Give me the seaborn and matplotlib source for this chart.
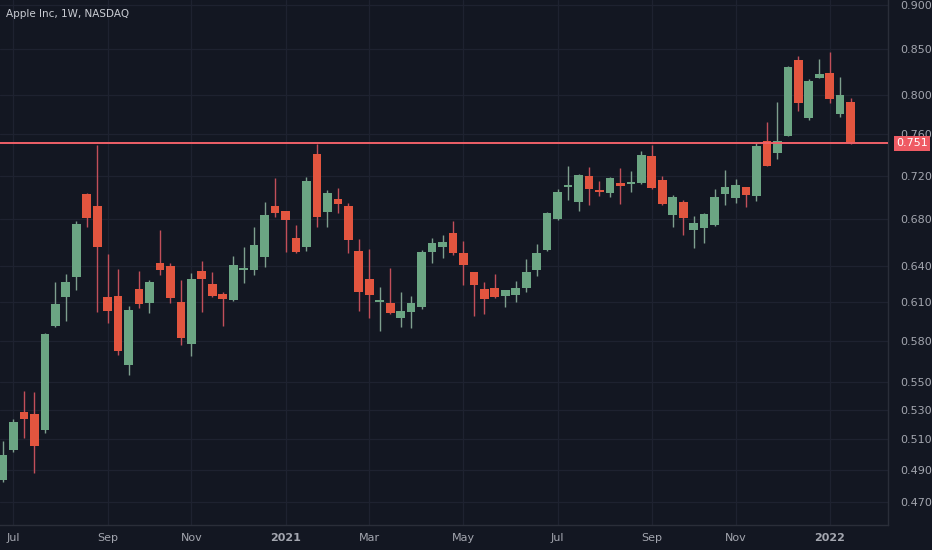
import numpy as np
import pandas as pd
import matplotlib
matplotlib.use('Agg')
import matplotlib.pyplot as plt
import matplotlib.transforms as mtransforms
from matplotlib.ticker import FixedLocator, FormatStrFormatter, NullLocator
import seaborn as sns

# Apple Inc, 1W, NASDAQ - weekly candles
week_start = '2020-06-29'
opens = [0.4837, 0.5031, 0.5287, 0.5273, 0.5164, 0.5917, 0.6145, 0.6309, 0.7032, 0.6922,
         0.6145, 0.6153, 0.5622, 0.6210, 0.6097, 0.6425, 0.6400, 0.6105, 0.5779, 0.6358,
         0.6251, 0.6169, 0.6121, 0.6366, 0.6366, 0.6475, 0.6922, 0.6877, 0.6638, 0.6560,
         0.7409, 0.6868, 0.6986, 0.6922, 0.6526, 0.6292, 0.6105, 0.6097, 0.5979, 0.6026,
         0.6066, 0.6518, 0.6560, 0.6682, 0.6509, 0.6350, 0.6210, 0.6218, 0.6153, 0.6161,
         0.6218, 0.6366, 0.6535, 0.6806, 0.7096, 0.6959, 0.7200, 0.7069, 0.7041, 0.7134,
         0.7125, 0.7134, 0.7390, 0.7162, 0.6841, 0.6959, 0.6708, 0.6726, 0.6752, 0.7032,
         0.6996, 0.7096, 0.7014, 0.7536, 0.7419, 0.7586, 0.8379, 0.7766, 0.8184, 0.8238,
         0.7807, 0.7931]
closes = [0.4998, 0.5218, 0.5239, 0.5057, 0.5855, 0.6089, 0.6268, 0.6761, 0.6815, 0.6560,
          0.6034, 0.5727, 0.6042, 0.6089, 0.6268, 0.6366, 0.6137, 0.5824, 0.6292, 0.6292,
          0.6153, 0.6129, 0.6408, 0.6383, 0.6578, 0.6841, 0.6859, 0.6797, 0.6518, 0.7153,
          0.6824, 0.7041, 0.6940, 0.6621, 0.6186, 0.6161, 0.6121, 0.6018, 0.6034, 0.6097,
          0.6518, 0.6595, 0.6604, 0.6509, 0.6408, 0.6243, 0.6129, 0.6145, 0.6202, 0.6218,
          0.6350, 0.6509, 0.6859, 0.7050, 0.7106, 0.7209, 0.7078, 0.7050, 0.7181, 0.7106,
          0.7134, 0.7400, 0.7087, 0.6940, 0.7005, 0.6815, 0.6770, 0.6850, 0.7005, 0.7096,
          0.7115, 0.7023, 0.7487, 0.7294, 0.7536, 0.8302, 0.7920, 0.8151, 0.8227, 0.7962,
          0.8004, 0.7510]
highs = [0.5090, 0.5239, 0.5435, 0.5428, 0.5863, 0.6268, 0.6333, 0.6788, 0.7041, 0.7497,
         0.6501, 0.6374, 0.6073, 0.6358, 0.6280, 0.6708, 0.6425, 0.6284, 0.6341, 0.6442,
         0.6350, 0.6186, 0.6484, 0.6560, 0.6735, 0.6959, 0.7181, 0.6877, 0.6752, 0.7190,
         0.7507, 0.7069, 0.7087, 0.6950, 0.6630, 0.6543, 0.6226, 0.6383, 0.6186, 0.6153,
         0.6535, 0.6638, 0.6664, 0.6788, 0.6612, 0.6350, 0.6268, 0.6333, 0.6202, 0.6276,
         0.6459, 0.6586, 0.6868, 0.7078, 0.7294, 0.7218, 0.7284, 0.7153, 0.7190, 0.7275,
         0.7247, 0.7438, 0.7497, 0.7200, 0.7023, 0.6977, 0.6832, 0.6859, 0.7078, 0.7256,
         0.7171, 0.7096, 0.7517, 0.7726, 0.7931, 0.8313, 0.8423, 0.8173, 0.8390, 0.8467,
         0.8194, 0.7973]
lows = [0.4824, 0.5018, 0.5110, 0.4882, 0.5144, 0.5909, 0.5955, 0.6202, 0.6735, 0.6026,
        0.5940, 0.5697, 0.5549, 0.6058, 0.6018, 0.6325, 0.6097, 0.5771, 0.5689, 0.6026,
        0.6145, 0.5917, 0.6113, 0.6259, 0.6325, 0.6391, 0.6824, 0.6518, 0.6510, 0.6526,
        0.6735, 0.6735, 0.6859, 0.6509, 0.6034, 0.5979, 0.5878, 0.6010, 0.5909, 0.5901,
        0.6050, 0.6425, 0.6467, 0.6492, 0.6243, 0.5995, 0.6010, 0.6140, 0.6066, 0.6105,
        0.6186, 0.6317, 0.6526, 0.6797, 0.6977, 0.6877, 0.6931, 0.7014, 0.7005, 0.6940,
        0.7050, 0.7125, 0.7080, 0.6931, 0.6735, 0.6664, 0.6552, 0.6595, 0.6743, 0.6931,
        0.6950, 0.6913, 0.6968, 0.7290, 0.7361, 0.7580, 0.7838, 0.7746, 0.8180, 0.7920,
        0.7776, 0.7505]
level = 0.751
price_ticks = [0.470, 0.490, 0.510, 0.530, 0.550, 0.580, 0.610, 0.640,
               0.680, 0.720, 0.760, 0.800, 0.850, 0.900]
month_ticks = ['2020-07-06', '2020-09-07', '2020-11-02', '2021-01-04', '2021-03-01',
               '2021-05-03', '2021-07-05', '2021-09-06', '2021-11-01', '2022-01-03']
month_labels = ['Jul', 'Sep', 'Nov', '2021', 'Mar', 'May', 'Jul', 'Sep', 'Nov', '2022']

bg = '#131722'
grid_c = '#1e2230'
txt_c = '#a3a6af'
up_c, down_c = '#6ba583', '#e2553f'
up_wick, down_wick = '#7e9f8e', '#c24f5a'

sns.set_theme(style='dark', rc={'axes.facecolor': bg, 'figure.facecolor': bg,
                                'axes.edgecolor': '#2a2e39', 'text.color': txt_c})
plt.rcParams['font.family'] = ['DejaVu Sans']

df = pd.DataFrame({'date': pd.date_range(week_start, periods=len(opens), freq='W-MON'),
                   'open': opens, 'high': highs, 'low': lows, 'close': closes})
df['up'] = df['close'] >= df['open']

fig = plt.figure(figsize=(9.32, 5.5), dpi=100)
ax = fig.add_axes([0, 25 / 550, 888 / 932, 525 / 550])

ax.vlines(df['date'], df['low'], df['high'],
          colors=np.where(df['up'], up_wick, down_wick), lw=1.0, zorder=2)
body_lo = df[['open', 'close']].min(axis=1)
body_h = (df['close'] - df['open']).abs().clip(lower=0.0015)
ax.bar(df['date'], body_h, bottom=body_lo, width=5.8,
       color=np.where(df['up'], up_c, down_c), linewidth=0, zorder=3)

ax.axhline(level, color='#ef6068', lw=1.4, zorder=4)

ax.set_yscale('log')
ax.set_ylim(0.456, 0.906)
ax.set_xlim(df['date'].iloc[0] - pd.Timedelta(days=2),
            df['date'].iloc[0] + pd.Timedelta(days=592))

ax.yaxis.tick_right()
ax.yaxis.set_major_locator(FixedLocator(price_ticks))
ax.yaxis.set_minor_locator(NullLocator())
ax.yaxis.set_major_formatter(FormatStrFormatter('%.3f'))
ax.set_xticks(pd.to_datetime(month_ticks))
ax.set_xticklabels(month_labels)
for lab in ax.get_xticklabels():
    if lab.get_text().isdigit():
        lab.set_fontweight('bold')
        lab.set_color('#c9ccd3')
ax.tick_params(axis='y', length=0, pad=9, labelsize=8, labelcolor=txt_c)
ax.tick_params(axis='x', length=0, pad=6, labelsize=8, labelcolor=txt_c)

ax.grid(True, color=grid_c, lw=0.9)
ax.set_axisbelow(True)
for side in ['top', 'left']:
    ax.spines[side].set_visible(False)
for side in ['right', 'bottom']:
    ax.spines[side].set_color('#2a2e39')
    ax.spines[side].set_linewidth(1.0)

# last price tag on the price scale
trans = mtransforms.blended_transform_factory(ax.transAxes, ax.transData)
ax.text(1.0 + 8 / 888, level, '%.3f' % level, transform=trans, ha='left', va='center',
        fontsize=8, color='white', zorder=6, clip_on=False,
        bbox=dict(boxstyle='square,pad=0.22', fc='#ef5b64', ec='none'))

fig.text(6 / 932, 1 - 14 / 550, 'Apple Inc, 1W, NASDAQ', ha='left', va='center',
         fontsize=7.5, color='#c9ccd3')

fig.savefig('out.png', dpi=100, facecolor=bg)
